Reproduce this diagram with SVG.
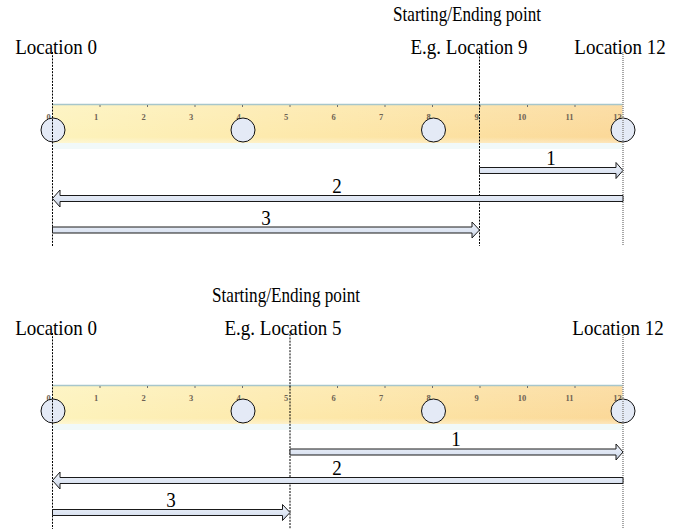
<svg xmlns="http://www.w3.org/2000/svg" width="683" height="529" viewBox="0 0 683 529">
<defs>
<linearGradient id="rulerH" x1="0" y1="0" x2="1" y2="0">
<stop offset="0" stop-color="#fdf3bc"/>
<stop offset="0.5" stop-color="#fde7a8"/>
<stop offset="1" stop-color="#fbd898"/>
</linearGradient>
<linearGradient id="rulerV" x1="0" y1="0" x2="0" y2="1">
<stop offset="0" stop-color="#ffffff" stop-opacity="0.15"/>
<stop offset="0.85" stop-color="#ffffff" stop-opacity="0"/>
<stop offset="1" stop-color="#ffffff" stop-opacity="0.35"/>
</linearGradient>
<linearGradient id="arrowFill" x1="0" y1="0" x2="0" y2="1">
<stop offset="0" stop-color="#eef2fa"/>
<stop offset="0.6" stop-color="#dce4f2"/>
<stop offset="1" stop-color="#b9c2d2"/>
</linearGradient>
<g id="ruler">
<rect x="52.5" y="0" width="570" height="39" fill="url(#rulerH)"/>
<rect x="52.5" y="0" width="570" height="39" fill="url(#rulerV)"/>
<line x1="52.5" y1="0.5" x2="622.5" y2="0.5" stroke="#a7c6cb" stroke-width="1.5"/>
<rect x="52.5" y="39" width="570" height="6" fill="#eef7f7" opacity="0.8"/>
<g class="tick">
<line x1="100" y1="1" x2="100" y2="3"/><line x1="147.5" y1="1" x2="147.5" y2="3"/><line x1="195" y1="1" x2="195" y2="3"/><line x1="242.5" y1="1" x2="242.5" y2="3"/><line x1="290" y1="1" x2="290" y2="3"/><line x1="337.5" y1="1" x2="337.5" y2="3"/><line x1="385" y1="1" x2="385" y2="3"/><line x1="432.5" y1="1" x2="432.5" y2="3"/><line x1="480" y1="1" x2="480" y2="3"/><line x1="527.5" y1="1" x2="527.5" y2="3"/><line x1="575" y1="1" x2="575" y2="3"/>
</g>
<g class="num">
<text x="48.5" y="15.5">0</text><text x="96" y="15.5">1</text><text x="143.5" y="15.5">2</text><text x="191" y="15.5">3</text><text x="238.5" y="15.5">4</text><text x="286" y="15.5">5</text><text x="333.5" y="15.5">6</text><text x="381" y="15.5">7</text><text x="428.5" y="15.5">8</text><text x="476.5" y="15.5">9</text><text x="522" y="15.5">10</text><text x="569.5" y="15.5">11</text><text x="617.5" y="15.5">12</text>
</g>
</g>
</defs>
<style>
.lbl{font-family:"Liberation Serif","Times New Roman",serif;font-size:19px;fill:#000;text-anchor:middle}
.num{font-family:"Liberation Serif","Times New Roman",serif;font-size:8.5px;font-weight:bold;fill:#6e6253;text-anchor:middle}
.tick line{stroke:#6f6f6f;stroke-width:1}
.dash{stroke:#000;stroke-width:1;stroke-dasharray:2 1.2;fill:none}
.dot{stroke:#8a8a8a;stroke-width:1.5;stroke-dasharray:1 1;fill:none}
.stop{fill:#e4eaf6;stroke:#111;stroke-width:1}
.arr{fill:url(#arrowFill);stroke:#1a1a1a;stroke-width:1;stroke-linejoin:miter}
</style>

<!-- Top panel -->
<g id="top-ruler"><use href="#ruler" x="0" y="104"/></g>
<g id="top-stops">
<circle class="stop" cx="53" cy="130" r="12"/>
<circle class="stop" cx="243" cy="130" r="12"/>
<circle class="stop" cx="433.5" cy="130" r="12"/>
<circle class="stop" cx="623" cy="130" r="12"/>
</g>
<g id="top-labels">
<text class="lbl" transform="translate(56,54) scale(1,1.15)">Location 0</text>
<text class="lbl" transform="translate(467,21) scale(1,1.15)" textLength="148" lengthAdjust="spacingAndGlyphs">Starting/Ending point</text>
<text class="lbl" transform="translate(469,54) scale(1,1.15)">E.g. Location 9</text>
<text class="lbl" transform="translate(620,54) scale(1,1.15)">Location 12</text>
</g>
<g id="top-guides">
<line class="dash" x1="52.5" y1="52" x2="52.5" y2="246"/>
<line class="dash" x1="479.5" y1="50" x2="479.5" y2="246"/>
<line class="dot" x1="623" y1="52" x2="623" y2="246"/>
</g>
<g id="top-connectors">
<path class="arr" d="M479.5,167.5 H616 V162.5 L623,170.5 L616,178.5 V173.5 H479.5 Z"/>
<path class="arr" d="M623,195.5 H60 V190 L52.5,198.5 L60,207 V201.5 H623 Z"/>
<path class="arr" d="M52.5,227 H472 V222 L479.5,230 L472,238 V233 H52.5 Z"/>
<text class="lbl" transform="translate(551,164.5) scale(1,1.15)">1</text>
<text class="lbl" transform="translate(337,192.5) scale(1,1.15)">2</text>
<text class="lbl" transform="translate(266,224.5) scale(1,1.15)">3</text>
</g>

<!-- Bottom panel -->
<g id="bottom-ruler"><use href="#ruler" x="0" y="385"/></g>
<g id="bottom-stops">
<circle class="stop" cx="53" cy="411" r="12"/>
<circle class="stop" cx="243" cy="411" r="12"/>
<circle class="stop" cx="433.5" cy="411" r="12"/>
<circle class="stop" cx="623" cy="411" r="12"/>
</g>
<g id="bottom-labels">
<text class="lbl" transform="translate(56,335) scale(1,1.15)">Location 0</text>
<text class="lbl" transform="translate(286,302) scale(1,1.15)" textLength="148" lengthAdjust="spacingAndGlyphs">Starting/Ending point</text>
<text class="lbl" transform="translate(283,335) scale(1,1.15)">E.g. Location 5</text>
<text class="lbl" transform="translate(618,335) scale(1,1.15)">Location 12</text>
</g>
<g id="bottom-guides">
<line class="dash" x1="52.5" y1="333" x2="52.5" y2="529"/>
<line class="dash" x1="290" y1="331" x2="290" y2="529"/>
<line class="dot" x1="623" y1="333" x2="623" y2="529"/>
</g>
<g id="bottom-connectors">
<path class="arr" d="M290,449 H616 V444 L623,452 L616,460 V455 H290 Z"/>
<path class="arr" d="M623,477.5 H60 V472 L52.5,480.5 L60,489 V483.5 H623 Z"/>
<path class="arr" d="M52.5,509.5 H282.5 V504.5 L290,512.5 L282.5,520.5 V515.5 H52.5 Z"/>
<text class="lbl" transform="translate(456,446) scale(1,1.15)">1</text>
<text class="lbl" transform="translate(337,474.5) scale(1,1.15)">2</text>
<text class="lbl" transform="translate(171,506.5) scale(1,1.15)">3</text>
</g>
</svg>
